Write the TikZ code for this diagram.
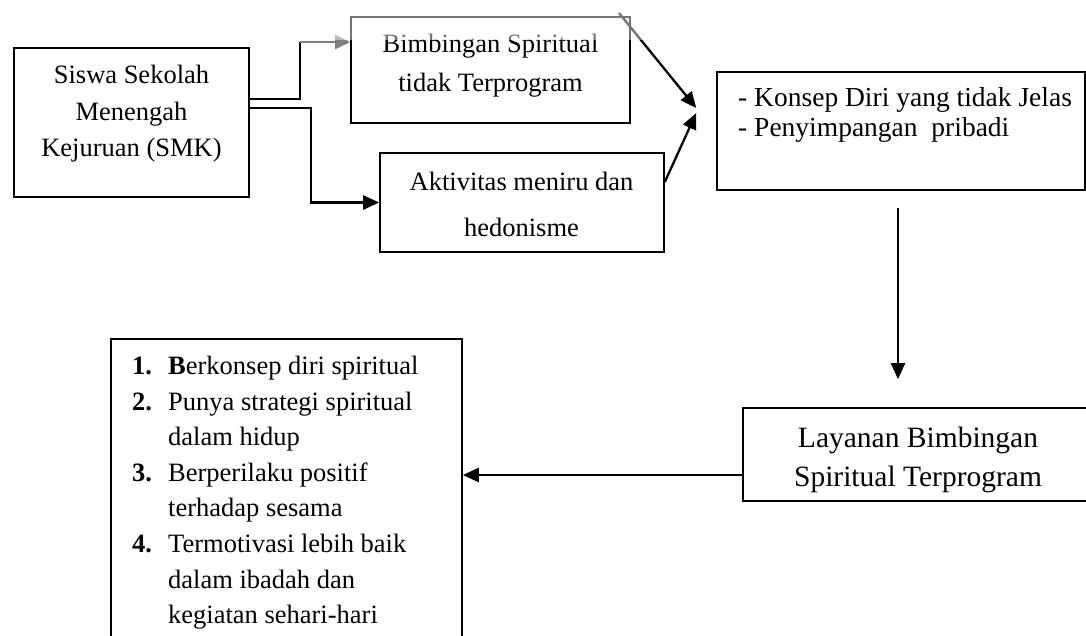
\documentclass[tikz,border=0pt]{standalone}
\usepackage{fontspec}
\setmainfont{Liberation Serif}
\usetikzlibrary{arrows.meta,calc}
\begin{document}
\begin{tikzpicture}[x=1pt,y=-1pt,
  box/.style={draw, line width=1.6pt, inner sep=0pt},
  txt/.style={inner sep=0pt, align=center, font=\fontsize{26.5}{36.5}\selectfont},
  ln/.style={line width=2.3pt},
  arr/.style={ln, -{Triangle[length=16pt,width=14pt]}},
  garr/.style={ln, draw=gray, -{Triangle[length=15pt,width=14pt, fill=gray]}},
]
\useasboundingbox (0,0) rectangle (1086,635);

% boxes
\node[box, minimum width=235pt, minimum height=149pt] (smk) at (131.5,122.5) {};
\node[box, minimum width=279pt, minimum height=106pt] (bim) at (490.5,70) {};
\node[box, minimum width=284pt, minimum height=99pt]  (akt) at (522,202.5) {};
\node[box, minimum width=368pt, minimum height=118pt] (kon) at (901,131) {};
\node[box, minimum width=350pt, minimum height=93pt]  (lay) at (918,454.5) {};
\node[box, minimum width=351pt, minimum height=311pt] (lis) at (286.5,494.5) {};

% texts
\node[txt, anchor=north] (smkT) at (131.5,65.4) {Siswa Sekolah\\Menengah\\Kejuruan (SMK)};
\node[txt, anchor=north, font=\fontsize{26.5}{39}\selectfont] (bimT) at (490.5,33.9) {Bimbingan Spiritual\\tidak Terprogram};
\node[txt, anchor=north, font=\fontsize{26.5}{46}\selectfont] (aktT) at (521.5,171.9) {Aktivitas meniru dan\\hedonisme};
\node[txt, anchor=north west, align=left, font=\fontsize{27.5}{30.5}\selectfont] (konT) at (738,87.2) {- Konsep Diri yang tidak Jelas\\- Penyimpangan\ \ pribadi};
\node[txt, anchor=north, font=\fontsize{29.5}{39}\selectfont] (layT) at (918,426.9) {Layanan Bimbingan\\Spiritual Terprogram};
\node[txt, anchor=north west, align=left, font=\fontsize{26.5}{35.6}\selectfont] (lisT) at (132,355.9) {%
\makebox[36pt][l]{\textbf{1.}}\textbf{B}erkonsep diri spiritual\\
\makebox[36pt][l]{\textbf{2.}}Punya strategi spiritual\\
\hspace*{36pt}dalam hidup\\
\makebox[36pt][l]{\textbf{3.}}Berperilaku positif\\
\hspace*{36pt}terhadap sesama\\
\makebox[36pt][l]{\textbf{4.}}Termotivasi lebih baik\\
\hspace*{36pt}dalam ibadah dan\\
\hspace*{36pt}kegiatan sehari-hari};

% connectors
\coordinate (j1) at ([xshift=-50pt,yshift=28pt]bim.west);
\draw[ln] ([yshift=23.5pt]smk.east) -| (j1);
\draw[garr] (j1) -- ([yshift=28pt]bim.west);
\draw[arr] ([yshift=14.5pt]smk.east) -| ([xshift=-68pt]akt.west) -- (akt.west);

\coordinate (d1s) at (619,13);
\coordinate (t1) at ([xshift=-20pt,yshift=23pt]kon.west);
\draw[arr] (d1s) -- (t1);
\draw[arr] ([yshift=20.5pt]akt.east) -- ([xshift=-20pt,yshift=18pt]kon.west);

\draw[arr] ([xshift=-3pt,yshift=-17pt]kon.south) -- ([xshift=-20pt,yshift=28pt]lay.north);
\draw[arr] ([yshift=-20.5pt]lay.west) -- ([yshift=19.5pt]lis.east);

% faded band at the top (scan watermark)
\fill[white, opacity=0.45] (301,0) rectangle (720,40);
\end{tikzpicture}
\end{document}
